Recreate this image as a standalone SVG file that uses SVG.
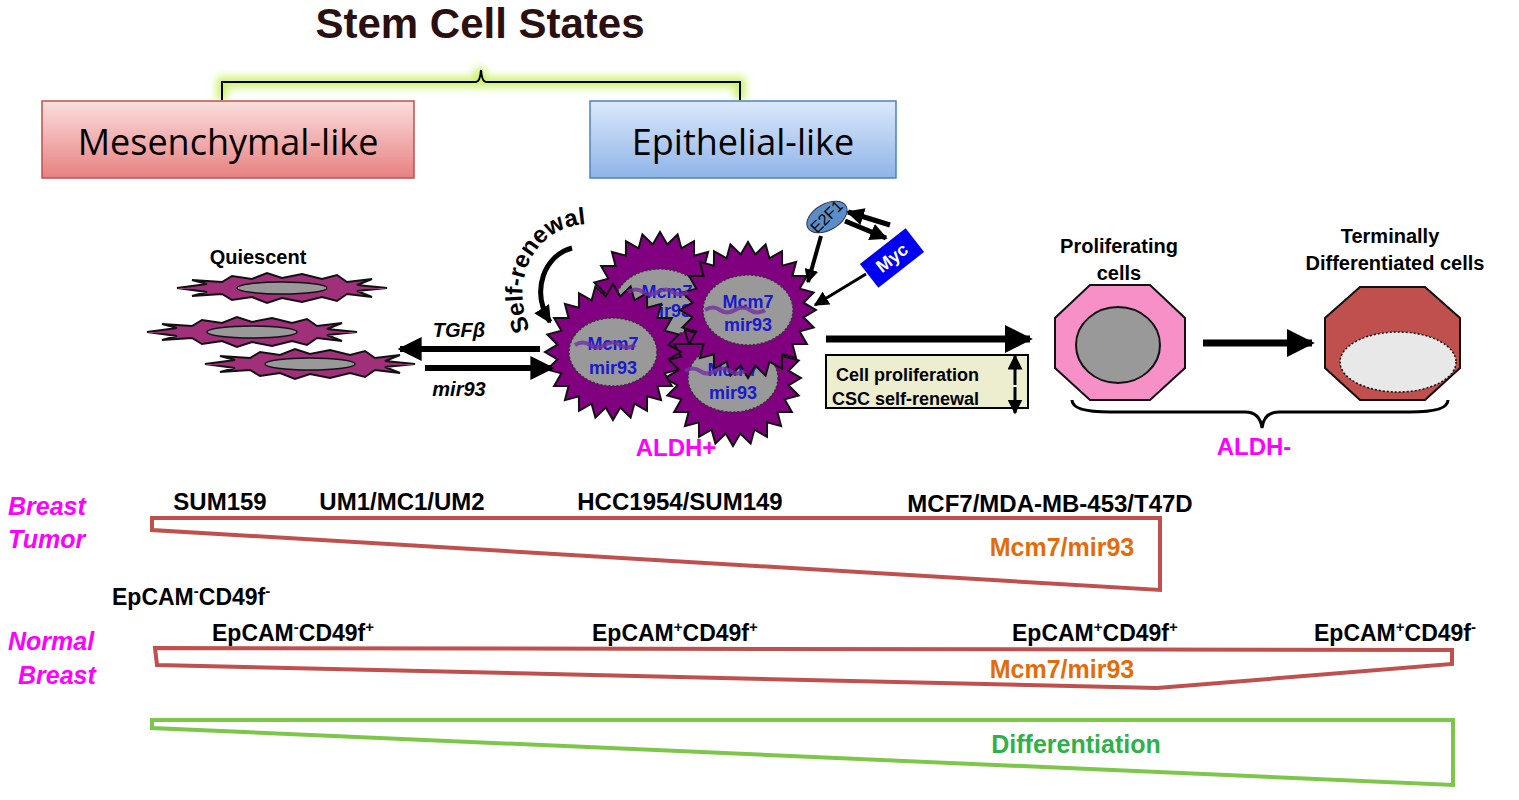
<svg xmlns="http://www.w3.org/2000/svg" width="1519" height="800" viewBox="0 0 1519 800">
<defs>
<style>
text{font-family:"Liberation Sans",Arial,sans-serif;font-weight:bold}
text.n{font-weight:normal;font-family:"Open Sans","DejaVu Sans",sans-serif}
.mg{fill:#ff00ff}
.or{fill:#e36c09}
.nuc{fill:#999;stroke:#333;stroke-dasharray:2 2;stroke-width:1.5}
.mt{fill:#1a1acc;font-size:18px}
.tri{fill:#fff;stroke:#c0504d;stroke-width:4}
</style>
<linearGradient id="gr" x1="0" y1="0" x2="0" y2="1"><stop offset="0" stop-color="#fbdede"/><stop offset="1" stop-color="#e88080"/></linearGradient>
<linearGradient id="gb" x1="0" y1="0" x2="0" y2="1"><stop offset="0" stop-color="#dbe8fa"/><stop offset="1" stop-color="#8fb4e8"/></linearGradient>
<filter id="glow" x="-10%" y="-100%" width="120%" height="300%"><feGaussianBlur stdDeviation="4"/></filter>
<marker id="ah" viewBox="0 0 10 10" refX="9" refY="5" markerWidth="4" markerHeight="4" orient="auto"><path d="M0,0L10,5L0,10z" fill="#000"/></marker>
<marker id="ah2" viewBox="0 0 10 10" refX="9" refY="5" markerWidth="3.5" markerHeight="3.5" orient="auto"><path d="M0,0L10,5L0,10z" fill="#000"/></marker>
<marker id="ah3" viewBox="0 0 10 10" refX="9" refY="5" markerWidth="5" markerHeight="5" orient="auto"><path d="M0,0L10,5L0,10z" fill="#000"/></marker>
<polygon id="star" fill="#800080" stroke="#111" stroke-width="2" points="68,0 55.5,7.3 65.7,17.6 51.7,21.4 58.9,34 44.4,34.1 48.1,48.1 34.1,44.4 34,58.9 21.4,51.7 17.6,65.7 7.3,55.5 0,68 -7.3,55.5 -17.6,65.7 -21.4,51.7 -34,58.9 -34.1,44.4 -48.1,48.1 -44.4,34.1 -58.9,34 -51.7,21.4 -65.7,17.6 -55.5,7.3 -68,0 -55.5,-7.3 -65.7,-17.6 -51.7,-21.4 -58.9,-34 -44.4,-34.1 -48.1,-48.1 -34.1,-44.4 -34,-58.9 -21.4,-51.7 -17.6,-65.7 -7.3,-55.5 0,-68 7.3,-55.5 17.6,-65.7 21.4,-51.7 34,-58.9 34.1,-44.4 48.1,-48.1 44.4,-34.1 58.9,-34 51.7,-21.4 65.7,-17.6 55.5,-7.3"/>
<polygon id="flat" fill="#a0307a" stroke="#111" stroke-width="2" points="-105,0 -75,-4 -90,-8 -60,-6 -50,-12 -30,-9 -15,-15 0,-10 20,-14 40,-9 55,-13 65,-6 90,-9 75,-3 105,0 75,3 90,9 65,6 55,13 40,9 20,14 0,10 -15,15 -30,9 -50,12 -60,6 -90,8 -75,4"/>
</defs>
<rect width="1519" height="800" fill="#fff"/>

<g id="title"><text x="480" y="38" font-size="42" text-anchor="middle" fill="#2a1010">Stem Cell States</text></g>
<g id="bracket">
<path d="M222,100V82H740V100M480,82V68" fill="none" stroke="#c8f060" stroke-width="10" filter="url(#glow)"/>
<path d="M222,100V82H476Q480,82 481,70Q482,82 486,82H740V100" fill="none" stroke="#000" stroke-width="2"/>
</g>
<g id="mesenchymal"><rect x="42" y="101" width="372" height="77" fill="url(#gr)" stroke="#c0504d" stroke-width="1.5"/><text class="n" x="228" y="155" font-size="36" text-anchor="middle">Mesenchymal-like</text></g>
<g id="epithelial"><rect x="590" y="101" width="306" height="77" fill="url(#gb)" stroke="#4f81bd" stroke-width="1.5"/><text class="n" x="743" y="155" font-size="36" text-anchor="middle">Epithelial-like</text></g>

<g id="quiescent">
<text x="258" y="264" font-size="20" text-anchor="middle">Quiescent</text>
<use href="#flat" x="282" y="288"/><ellipse cx="282" cy="288" rx="45" ry="6" fill="#999" stroke="#111" stroke-width="1.5"/>
<use href="#flat" x="252" y="332"/><ellipse cx="252" cy="332" rx="45" ry="6" fill="#999" stroke="#111" stroke-width="1.5"/>
<use href="#flat" x="310" y="364"/><ellipse cx="310" cy="364" rx="45" ry="6" fill="#999" stroke="#111" stroke-width="1.5"/>
</g>

<g id="aldh-pos">
<use href="#star" x="660" y="300"/><ellipse class="nuc" cx="660" cy="303" rx="45" ry="34"/>
<text class="mt" x="667" y="298" text-anchor="middle">Mcm7</text><text class="mt" x="667" y="317" text-anchor="middle">mir93</text>
<use href="#star" x="733" y="378"/><ellipse class="nuc" cx="733" cy="378" rx="45" ry="34"/>
<text class="mt" x="733" y="376" text-anchor="middle">Mcm7</text><text class="mt" x="733" y="399" text-anchor="middle">mir93</text>
<use href="#star" x="613" y="352"/><ellipse class="nuc" cx="613" cy="352" rx="44" ry="34"/>
<text class="mt" x="613" y="350" text-anchor="middle">Mcm7</text><text class="mt" x="613" y="374" text-anchor="middle">mir93</text>
<use href="#star" x="748" y="310"/><ellipse class="nuc" cx="748" cy="310" rx="45" ry="35"/>
<text class="mt" x="748" y="308" text-anchor="middle">Mcm7</text><text class="mt" x="748" y="331" text-anchor="middle">mir93</text>
<path d="M575,345q8,-5 15,0t15,0t15,0t15,0M705,310q8,-5 15,0t15,0t15,0t15,0M685,371q8,-5 15,0t15,0t15,0t15,0M628,292q8,-5 15,0t15,0t15,0t15,0" fill="none" stroke="#7030a0" stroke-width="4" opacity="0.8"/>
<text x="676" y="456" font-size="24" text-anchor="middle" class="mg">ALDH+</text>
</g>

<g id="self-renewal">
<path id="srp" d="M530,330C505,270 545,215 605,225" fill="none"/>
<text font-size="24"><textPath href="#srp">Self-renewal</textPath></text>
<path d="M572,248C545,255 530,290 550,322" fill="none" stroke="#000" stroke-width="5" marker-end="url(#ah2)"/>
</g>

<g id="e2f1"><ellipse cx="827" cy="217" rx="22" ry="13" fill="#5b8ec7" stroke="#335" transform="rotate(-30 827 217)"/><text x="827" y="222" font-size="16" text-anchor="middle" transform="rotate(-45 827 217)" style="font-weight:normal">E2F1</text></g>
<g id="myc"><rect x="863" y="243" width="58" height="30" fill="#0000ee" transform="rotate(-38 892 258)"/><text x="892" y="264" font-size="18" fill="#fff" text-anchor="middle" transform="rotate(-38 892 258)">Myc</text></g>

<g id="right-box"><rect x="826" y="355" width="202" height="53" fill="#ededd0" stroke="#000" stroke-width="2"/><text x="836" y="381" font-size="18">Cell proliferation</text><text x="832" y="405" font-size="18">CSC self-renewal</text></g>

<g id="proliferating"><text x="1119" y="253" font-size="20" text-anchor="middle">Proliferating</text><text x="1119" y="280" font-size="20" text-anchor="middle">cells</text>
<polygon points="1090,285 1150,285 1185,318 1185,368 1150,400 1090,400 1055,368 1055,318" fill="#f890c8" stroke="#111" stroke-width="2"/>
<ellipse cx="1118" cy="345" rx="42" ry="38" fill="#999" stroke="#111" stroke-width="2"/></g>
<g id="terminal"><text x="1390" y="243" font-size="20" text-anchor="middle">Terminally</text><text x="1395" y="270" font-size="20" text-anchor="middle">Differentiated  cells</text>
<polygon points="1360,287 1425,287 1460,318 1460,368 1425,400 1360,400 1325,368 1325,318" fill="#c0504d" stroke="#111" stroke-width="2"/>
<ellipse cx="1398" cy="362" rx="58" ry="30" fill="#e8e8e8" stroke="#111" stroke-dasharray="2 2" stroke-width="1.5"/></g>
<g id="aldh-neg"><path d="M1072,400Q1072,412 1110,412H1245Q1260,412 1262,428Q1264,412 1279,412H1410Q1448,412 1448,400" fill="none" stroke="#000" stroke-width="3"/><text x="1254" y="455" font-size="24" text-anchor="middle" class="mg">ALDH-</text></g>

<g id="connectors" stroke="#000" fill="none">
<line x1="540" y1="349" x2="400" y2="349" stroke-width="6" marker-end="url(#ah)"/>
<line x1="425" y1="368" x2="552" y2="368" stroke-width="6" marker-end="url(#ah)"/>
<line x1="826" y1="339" x2="1030" y2="339" stroke-width="7" marker-end="url(#ah)"/>
<line x1="1203" y1="343" x2="1312" y2="343" stroke-width="7" marker-end="url(#ah)"/>
<line x1="821" y1="236" x2="808" y2="282" stroke-width="4" marker-end="url(#ah2)"/>
<line x1="866" y1="274" x2="815" y2="305" stroke-width="3" marker-end="url(#ah3)"/>
<line x1="845" y1="221" x2="886" y2="238" stroke-width="5" marker-end="url(#ah2)"/>
<line x1="890" y1="225" x2="848" y2="212" stroke-width="5" marker-end="url(#ah2)"/>
<line x1="1015" y1="385" x2="1015" y2="356" stroke-width="3" marker-end="url(#ah3)"/>
<line x1="1015" y1="387" x2="1015" y2="413" stroke-width="3" marker-end="url(#ah3)"/>
</g>
<g id="quiescent-labels"><text x="459" y="337" font-size="20" font-style="italic" text-anchor="middle">TGFβ</text><text x="459" y="396" font-size="20" font-style="italic" text-anchor="middle">mir93</text></g>

<g id="breast-tumor">
<text x="8" y="515" font-size="25" font-style="italic" class="mg">Breast</text><text x="8" y="548" font-size="25" font-style="italic" class="mg">Tumor</text>
<text x="220" y="510" font-size="24" text-anchor="middle">SUM159</text>
<text x="402" y="510" font-size="24" text-anchor="middle">UM1/MC1/UM2</text>
<text x="680" y="510" font-size="24" text-anchor="middle">HCC1954/SUM149</text>
<text x="1050" y="512" font-size="24" text-anchor="middle">MCF7/MDA-MB-453/T47D</text>
<polygon class="tri" points="152,518 1160,518 1160,590 152,530"/>
<text x="1062" y="556" font-size="25" text-anchor="middle" class="or">Mcm7/mir93</text>
</g>

<g id="normal-breast">
<text x="8" y="650" font-size="25" font-style="italic" class="mg">Normal</text><text x="18" y="684" font-size="25" font-style="italic" class="mg">Breast</text>
<text x="112" y="605" font-size="23">EpCAM<tspan font-size="15" dy="-9">-</tspan><tspan dy="9">CD49f</tspan><tspan font-size="15" dy="-9">-</tspan></text>
<text x="212" y="641" font-size="23">EpCAM<tspan font-size="15" dy="-9">-</tspan><tspan dy="9">CD49f</tspan><tspan font-size="15" dy="-9">+</tspan></text>
<text x="592" y="641" font-size="23">EpCAM<tspan font-size="15" dy="-9">+</tspan><tspan dy="9">CD49f</tspan><tspan font-size="15" dy="-9">+</tspan></text>
<text x="1012" y="641" font-size="23">EpCAM<tspan font-size="15" dy="-9">+</tspan><tspan dy="9">CD49f</tspan><tspan font-size="15" dy="-9">+</tspan></text>
<text x="1314" y="641" font-size="23">EpCAM<tspan font-size="15" dy="-9">+</tspan><tspan dy="9">CD49f</tspan><tspan font-size="15" dy="-9">-</tspan></text>
<polygon class="tri" points="155,648 1452,650 1452,664 1157,688 157,665"/>
<text x="1062" y="678" font-size="25" text-anchor="middle" class="or">Mcm7/mir93</text>
</g>

<g id="differentiation">
<polygon points="152,720 1453,720 1453,785 152,728" fill="#fff" stroke="#7cc74a" stroke-width="4"/>
<text x="1076" y="753" font-size="25" text-anchor="middle" fill="#2fb14a">Differentiation</text>
</g>
</svg>
